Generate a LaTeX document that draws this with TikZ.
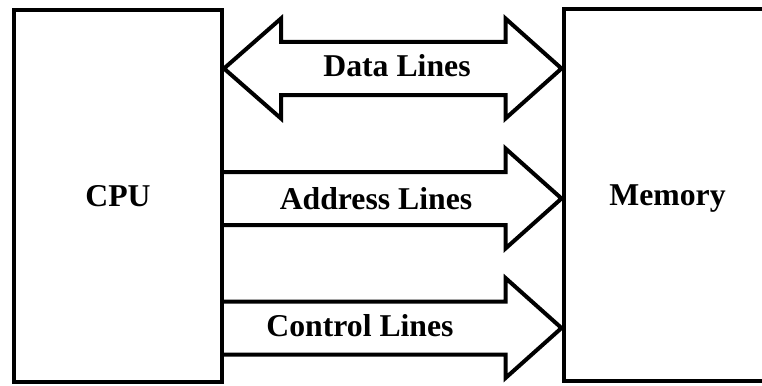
\documentclass[tikz,border=0pt]{standalone}
\usepackage{fontspec}
\setmainfont{Liberation Serif}
\usetikzlibrary{positioning, calc}

\begin{document}
\begin{tikzpicture}[x=0.75pt, y=-0.75pt, line width=3pt]
    \tikzstyle{unit}=[draw, rectangle, minimum width=156pt, minimum height=278.6pt, text depth=0pt, font=\fontsize{23.8}{28}\selectfont\bfseries];
    \tikzstyle{bus}=[draw, line join=miter];
    \tikzstyle{buslabel}=[inner sep=0pt, font=\fontsize{23.8}{28}\selectfont\bfseries];
    \clip (0,0) rectangle (762,385);
    \node[unit] (cpu) at (118,196) {CPU};
    \node[unit] (memory) at (667.5,195) {Memory};

    % data bus, both ways
    \coordinate (data-l) at (cpu.east |- 0,68.5);
    \coordinate (data-r) at (memory.west |- 0,68.5);
    \draw[bus] (data-l) -- ++(57,-50) -- ++(0,23.5) -- ($(data-r)+(-56,-26.5)$) -- ++(0,-23.5) -- (data-r)
      -- ++(-56,50) -- ++(0,-23.5) -- ($(data-l)+(57,26.5)$) -- ++(0,23.5) -- cycle;

    % address and control bus, cpu to memory
    \foreach \y/\name in {198.5/addr, 328/ctrl} {
      \coordinate (\name-r) at (memory.west |- 0,\y);
      \coordinate (\name-l) at (cpu.east |- \name-r);
      \draw[bus] ($(\name-l)+(0,-26.5)$) -- ($(\name-r)+(-56,-26.5)$) -- ++(0,-23.5) -- (\name-r)
        -- ++(-56,50) -- ++(0,-23.5) -- ($(\name-l)+(0,26.5)$);
    }

    \node[buslabel] (datalbl) at (397,65.5) {Data Lines};
    \node[buslabel] (addrlbl) at (376,198.5) {Address Lines};
    \node[buslabel] (ctrllbl) at (360,325.5) {Control Lines};
\end{tikzpicture}
\end{document}
